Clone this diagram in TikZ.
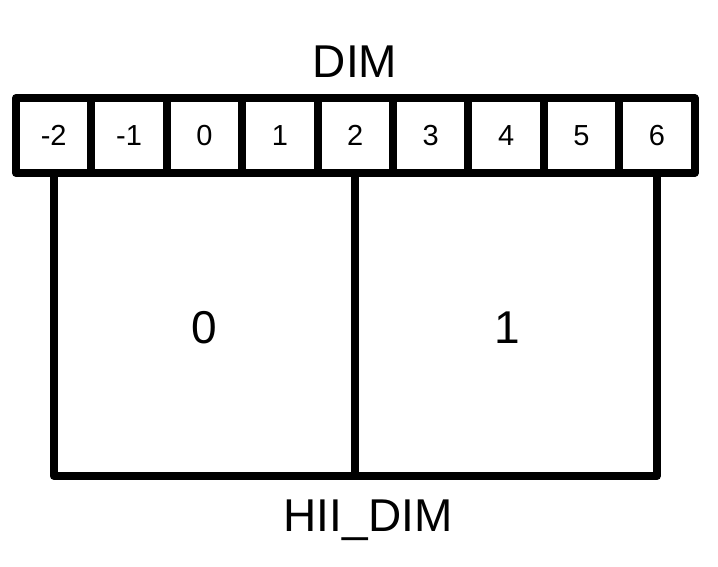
\documentclass[tikz,border=0pt]{standalone}
\usepackage{fontspec}
\setmainfont{Liberation Sans}
\usetikzlibrary{positioning,calc}

\tikzset{
  cell/.style={rectangle, draw, line width=8pt, minimum width=75.4pt, minimum height=75pt, inner sep=0pt, text height=20pt, text depth=0pt, font=\fontsize{29}{31}\selectfont},
  big/.style={inner sep=0pt, font=\fontsize{46}{50}\selectfont}
}

\begin{document}
\begin{tikzpicture}[x=1pt, y=-1pt, line join=round]
\useasboundingbox (0,0) rectangle (718,567);

% DIM row
\node[big] (dim) at (355,62) {DIM};
\foreach \v [count=\i from 0] in {-2,-1,0,1,2,3,4,5,6} {
  \node[cell] (c\i) at ({16+75.4*(\i+0.5)},135.5) {\v};
}

% HII_DIM boxes
\coordinate (bl) at (c0.south |- 0,476);
\coordinate (bm) at (c4.south |- 0,476);
\coordinate (br) at (c8.south |- 0,476);
\draw[line width=8pt] (c0.south) -- (bl) -- (br) -- (c8.south);
\draw[line width=8pt] (c4.south) -- (bm);

\node[big] (h0) at (204,328) {0};
\node[big] (h1) at (507,328) {1};
\node[big, anchor=base] (hii) at (368,531) {HII\_DIM};
\end{tikzpicture}
\end{document}
